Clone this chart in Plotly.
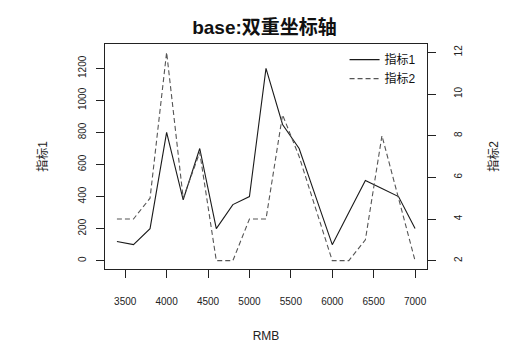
import plotly.graph_objects as go

rmb = [3400, 3600, 3800, 4000, 4200, 4400, 4600, 4800, 5000, 5200,
       5400, 5600, 5800, 6000, 6200, 6400, 6600, 6800, 7000]
ind1 = [120, 100, 200, 800, 380, 700, 200, 350, 400, 1200,
        850, 700, 400, 100, 300, 500, 450, 400, 200]
ind2 = [4, 4, 5, 12, 5, 7.2, 2, 2, 4, 4,
        9, 7, 4.5, 2, 2, 3, 8, 5, 2]

x_ticks = [3500, 4000, 4500, 5000, 5500, 6000, 6500, 7000]
y1_ticks = [0, 200, 400, 600, 800, 1000, 1200]
y2_ticks = [2, 4, 6, 8, 10, 12]

font = "Liberation Sans, Arial, Noto Sans CJK SC, sans-serif"

fig = go.Figure()
fig.add_trace(go.Scatter(x=rmb, y=ind1, mode="lines", name="指标1",
                         line=dict(color="#1a1a1a", width=1.1)))
fig.add_trace(go.Scatter(x=rmb, y=ind2, mode="lines", name="指标2", yaxis="y2",
                         line=dict(color="#555555", width=1.1, dash="5px,3px")))

axis_common = dict(showgrid=False, zeroline=False, showline=True, linecolor="#222",
                   linewidth=1.2, ticks="outside", ticklen=8, tickcolor="#222",
                   tickwidth=1, automargin=False,
                   tickfont=dict(family=font, size=10, color="#222"))

fig.update_layout(
    width=529, height=349,
    margin=dict(l=105, r=102, t=44, b=80),
    paper_bgcolor="white", plot_bgcolor="white",
    title=dict(text="<b>base:双重坐标轴</b>", x=0.5, xanchor="center", y=0.922, yanchor="middle",
               font=dict(family=font, size=19, color="#111"), automargin=False),
    showlegend=True,
    legend=dict(x=0.98, y=0.995, xanchor="right", yanchor="top", bgcolor="rgba(0,0,0,0)",
                font=dict(family=font, size=12, color="#111"), tracegroupgap=0,
                itemwidth=30),
    xaxis=dict(range=[3256, 7144], tickvals=x_ticks, mirror=True,
               ticklabelstandoff=15,
               title=dict(text="RMB", font=dict(family=font, size=12, color="#222"), standoff=25),
               **axis_common),
    yaxis=dict(range=[-52, 1352], tickvals=y1_ticks, mirror=True, tickangle=-90,
               ticklabelstandoff=6,
               title=dict(text="指标1", font=dict(family=font, size=12, color="#222"), standoff=26),
               **axis_common),
    yaxis2=dict(range=[1.6, 12.4], tickvals=y2_ticks, overlaying="y", side="right",
                tickangle=-90, ticklabelstandoff=14,
                title=dict(text="指标2", font=dict(family=font, size=12, color="#222"), standoff=26),
                **axis_common),
)

fig.write_html("out.html")
